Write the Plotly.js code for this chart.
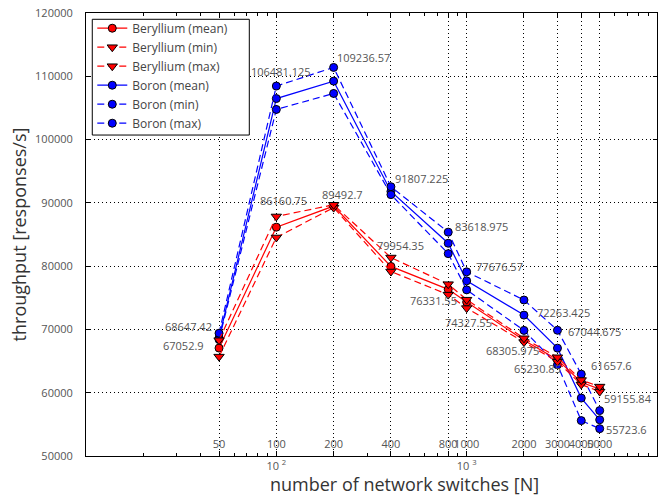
<!DOCTYPE html>
<html><head><meta charset="utf-8">
<script src="https://cdn.plot.ly/plotly-3.0.1.min.js"></script>
<style>html,body{margin:0;padding:0;background:#fff}#chart{width:658px;height:497px}</style>
</head><body><div id="chart"></div>
<script>
// ---- data ----
const switches = [50, 100, 200, 400, 800, 1000, 2000, 3000, 4000, 5000];
const berylliumMean = [67052.9, 86160.75, 89492.7, 79954.35, 76331.55, 74327.55, 68305.975, 65230.85, 61657.6, 60570];
const berylliumMin  = [65700, 84530, 89250, 79150, 75500, 73370, 68000, 64900, 61300, 60176];
const berylliumMax  = [68300, 87850, 89700, 81360, 77150, 74700, 68600, 65600, 62000, 60967];
const boronMean = [68647.42, 106481.125, 109236.57, 91807.225, 83618.975, 77676.57, 72263.425, 67044.675, 59155.84, 55723.6];
const boronMin  = [68400, 104760, 107290, 91300, 81975, 76250, 69850, 64405, 55590, 54325];
const boronMax  = [69400, 108456, 111400, 92550, 85373, 79100, 74650, 69870, 62926, 57170];
const xTickLabels = ['50', '100', '200', '400', '800', '1000', '2000', '3000', '4000', '5000'];
const yTickVals = [50000, 60000, 70000, 80000, 90000, 100000, 110000, 120000];
const decadeVals = [100, 1000];
const decadeLabels = ['10 <sup>2</sup>', '10 <sup>3</sup>'];
const minorVals = [20,30,40,50,60,70,80,90,100,200,300,400,500,600,700,800,900,1000,2000,3000,4000,5000,6000,7000,8000,9000];

// ---- label placement (pixel offsets from each labelled mean point) ----
const labelPlacement = [
  ['bo',0,-31,11], ['be',0,-36,3], ['bo',1,5,27], ['be',1,7,27], ['bo',2,30,24], ['be',2,9,12],
  ['bo',3,31,13], ['be',3,10,21], ['bo',4,33,17], ['be',4,-15,-11], ['bo',5,33,14], ['be',5,2,-20],
  ['bo',6,40,3], ['be',6,-11,-10], ['bo',7,37,17], ['be',7,-20,-9], ['be',8,30,17], ['bo',8,47,0], ['bo',9,27,-10]
];

const FONT = 'Open Sans, Noto Sans, sans-serif';
const RED = '#ff0000', BLUE = '#0000ff';

function tr(name, y, color, symbol, dash, rank) {
  return {
    type: 'scatter', mode: 'lines+markers', name: name, x: switches, y: y,
    line: {color: color, width: 1.2, dash: dash},
    marker: {symbol: symbol, size: symbol === 'circle' ? 8 : 9, color: color, line: {color: '#000', width: 1}},
    legendrank: rank
  };
}
const DASH = '7px,4px';
const data = [
  tr('Boron (mean)', boronMean, BLUE, 'circle', 'solid', 4),
  tr('Boron (min)', boronMin, BLUE, 'circle', DASH, 5),
  tr('Boron (max)', boronMax, BLUE, 'circle', DASH, 6),
  tr('Beryllium (mean)', berylliumMean, RED, 'circle', 'solid', 1),
  tr('Beryllium (min)', berylliumMin, RED, 'triangle-down', DASH, 2),
  tr('Beryllium (max)', berylliumMax, RED, 'triangle-down', DASH, 3),
  {type:'scatter', x:[switches[0]], y:[boronMean[0]], xaxis:'x2', yaxis:'y', mode:'markers', marker:{opacity:0}, showlegend:false, hoverinfo:'skip'},
  {type:'scatter', x:[switches[0]], y:[boronMean[0]], xaxis:'x3', yaxis:'y', mode:'markers', marker:{opacity:0}, showlegend:false, hoverinfo:'skip'}
];

const series = {be: berylliumMean, bo: boronMean};
const annotations = labelPlacement.map(([s, i, dx, dy]) => ({
  x: Math.log10(switches[i]), y: series[s][i], xref: 'x', yref: 'y',
  text: String(series[s][i]), showarrow: false, xshift: dx, yshift: dy,
  font: {family: FONT, size: 11, color: '#555'}
}));
annotations.push({
  x: 0.557, y: -0.063, xref: 'paper', yref: 'paper', showarrow: false,
  text: 'number of network switches [N]', xanchor: 'center', yanchor: 'middle',
  font: {family: FONT, size: 18, color: '#333'}
});

const layout = {
  width: 658, height: 497,
  margin: {l: 86, r: 1, t: 13, b: 41},
  paper_bgcolor: '#fff', plot_bgcolor: '#fff',
  font: {family: FONT, size: 11, color: '#555'},
  showlegend: true,
  legend: {
    x: 0.011, y: 0.9984, xanchor: 'left', yanchor: 'top',
    bgcolor: 'rgba(0,0,0,0)', borderwidth: 0,
    font: {family: FONT, size: 12, color: '#444'},
    traceorder: 'normal'
  },
  shapes: [{
    type: 'rect', xref: 'paper', yref: 'paper', layer: 'above',
    x0: 0.011, x1: 0.286, y0: 0.7245, y1: 0.9858,
    fillcolor: '#fff', line: {color: '#000', width: 1}
  }],
  xaxis: {
    type: 'log', range: [1, 4],
    tickvals: switches, ticktext: xTickLabels, tickangle: 0,
    ticks: 'inside', ticklen: 5, tickcolor: '#000',
    ticklabelstandoff: -22,
    showline: true, linecolor: '#000', linewidth: 1, mirror: 'ticks',
    showgrid: true, gridcolor: '#000', gridwidth: 1, griddash: '1px,3px',
    zeroline: false,
    tickfont: {family: FONT, size: 11, color: '#555'}
  },
  xaxis2: {
    type: 'log', range: [1, 4], overlaying: 'x', anchor: 'y', side: 'bottom',
    tickvals: minorVals, showticklabels: false,
    ticks: 'inside', ticklen: 3, tickcolor: '#000', mirror: 'ticks',
    showline: false, showgrid: false, zeroline: false
  },
  xaxis3: {
    type: 'log', range: [1, 4], overlaying: 'x', anchor: 'y', side: 'bottom',
    tickvals: decadeVals, ticktext: decadeLabels, tickangle: 0,
    ticks: '', showline: false, showgrid: false, zeroline: false,
    ticklabelstandoff: 2,
    tickfont: {family: FONT, size: 11, color: '#555'}
  },
  yaxis: {
    range: [50000, 120000], tickvals: yTickVals, tickformat: 'd',
    ticks: 'inside', ticklen: 4, tickcolor: '#000',
    showline: true, linecolor: '#000', linewidth: 1, mirror: 'ticks',
    showgrid: true, gridcolor: '#000', gridwidth: 1, griddash: '1px,3px',
    zeroline: false,
    ticklabelstandoff: 10,
    tickfont: {family: FONT, size: 11, color: '#555'},
    title: {text: 'throughput [responses/s]', font: {family: FONT, size: 18, color: '#333'}, standoff: 3}
  },
  annotations: annotations
};

Plotly.newPlot('chart', data, layout, {displayModeBar: false, staticPlot: true});
</script></body></html>
